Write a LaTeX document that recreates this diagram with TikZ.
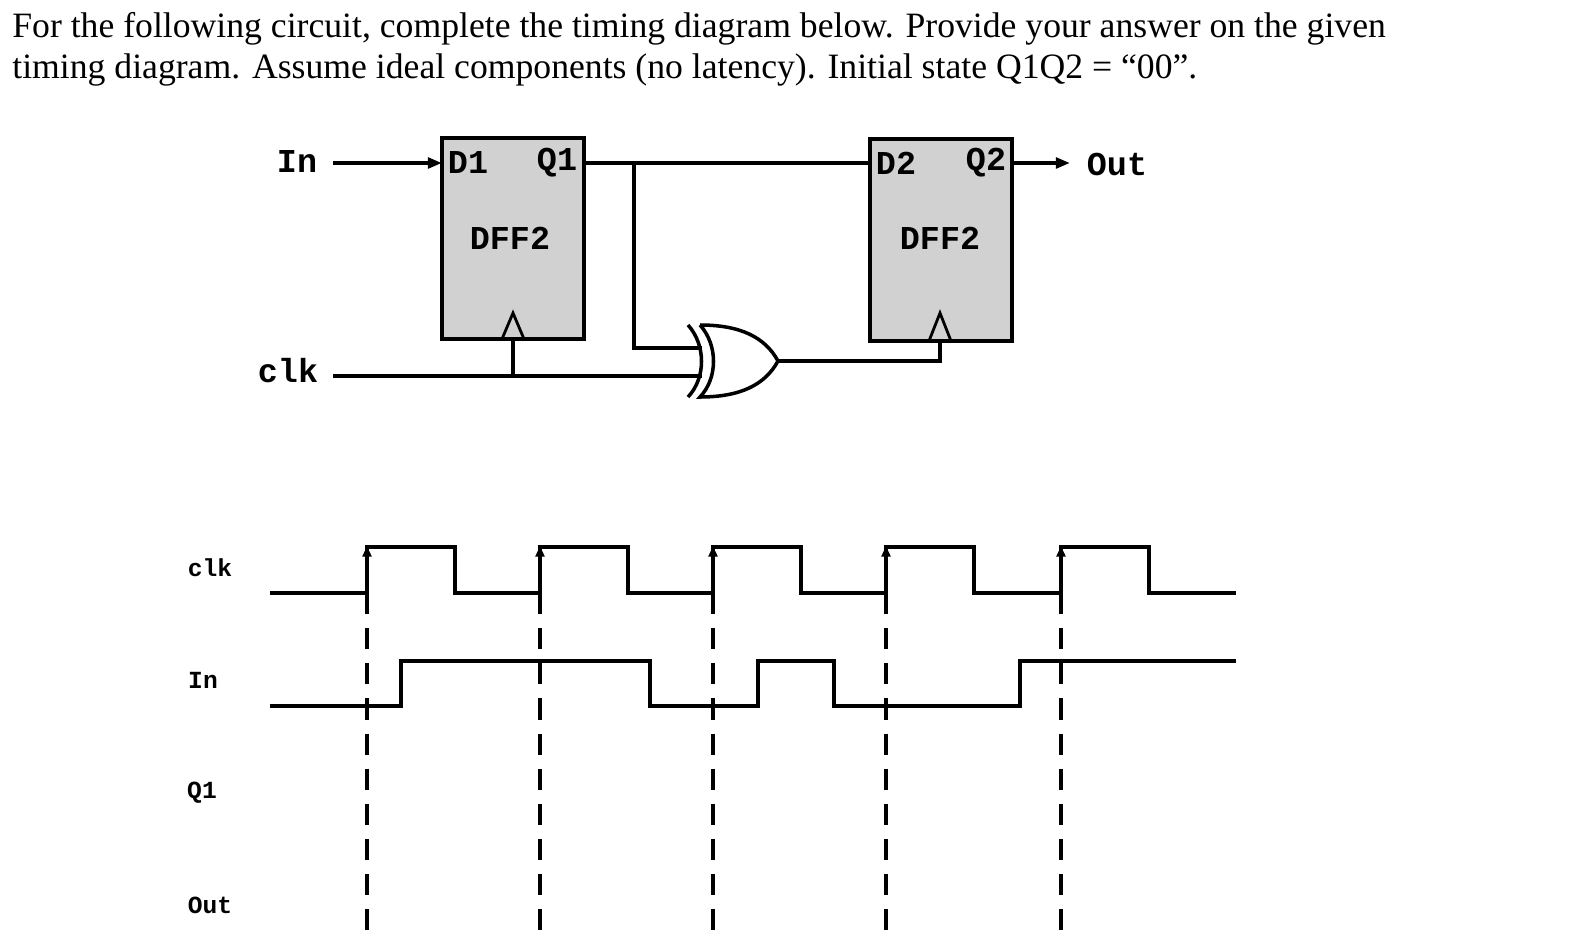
\documentclass[tikz,border=0pt]{standalone}
\usepackage{fontspec}
\setmainfont{Liberation Serif}
\newfontfamily\mono{Liberation Mono}
\usetikzlibrary{arrows.meta}
\begin{document}
\begin{tikzpicture}[x=0.02cm,y=-0.02cm,
  w/.style={line width=2pt},
  box/.style={draw,line width=2.4pt,fill=black!18},
  lbl/.style={font=\mono\bfseries\fontsize{19}{19}\selectfont,inner sep=0pt},
  tl/.style={font=\mono\bfseries\fontsize{14}{14}\selectfont,inner sep=0pt},
  sig/.style={line width=2pt},
  dsh/.style={line width=1.8pt,dash pattern=on 12pt off 8pt},
  arr/.style={-{Triangle[length=8pt,width=6pt]}}]
\useasboundingbox (0,0) rectangle (1592,950);
\node[anchor=north west,inner sep=0pt,align=left,font=\fontsize{20.3}{23.5}\selectfont] (title) at (12,12)
 {For the following circuit, complete the timing diagram below. Provide your answer on the given\\
 timing diagram. Assume ideal components (no latency). Initial state Q1Q2 = ``00''.};
% flip-flops
\draw[box] (442,138) rectangle (584,339);
\draw[box] (870,139) rectangle (1012,341);
\node[lbl] (d1) at (468,163) {D1};
\node[lbl] (q1) at (557,163) {Q1};
\node[lbl] (f1) at (510,238) {DFF2};
\node[lbl] (d2) at (896,163) {D2};
\node[lbl] (q2) at (986,163) {Q2};
\node[lbl] (f2) at (940,238) {DFF2};
\draw[line width=1.6pt] (502,339) -- (513,313) -- (524,339);
\draw[line width=1.6pt] (929,341) -- (940,313) -- (951,341);
\node[lbl] (in) at (297,162) {In};
\node[lbl] (clk) at (288,371) {clk};
\node[lbl] (out) at (1117,164) {Out};
\coordinate (a1) at (333,163);
\draw[w,arr] (a1) -- (442,163);
\draw[w] (584,163) -- (870,163);
\draw[w,arr] (1012,163) -- (1070,163);
\draw[w] (634,163) -- (634,348) -- (702,348);
\draw[w] (333,376) -- (702,376);
\draw[w] (513,376) -- (513,339);
% XOR gate
\draw[w] (688,325) .. controls (706,345) and (706,378) .. (688,397);
\draw[w] (700,325) .. controls (718,345) and (718,378) .. (700,397)
  .. controls (740,397) and (765,385) .. (778,361)
  .. controls (765,337) and (740,325) .. (700,325);
\draw[w] (778,361) -- (940,361) -- (940,341);
% timing labels
\node[tl] (tc) at (210,568) {clk};
\node[tl] (ti) at (203,680) {In};
\node[tl] (tq) at (202,793) {Q1};
\node[tl] (to) at (210,905) {Out};
\foreach \x in {367,540,713,886,1061} \draw[dsh] (\x,593) -- (\x,935);
\draw[sig] (270,593) -- (367,593) -- (367,547) -- (455,547) -- (455,593) -- (540,593) -- (540,547)
 -- (628,547) -- (628,593) -- (713,593) -- (713,547) -- (801,547) -- (801,593) -- (886,593) -- (886,547)
 -- (974,547) -- (974,593) -- (1061,593) -- (1061,547) -- (1149,547) -- (1149,593) -- (1236,593);
\foreach \x in {367,540,713,886,1061} \draw[sig,-{Triangle[length=6pt,width=5pt]}] (\x,570) -- (\x,546);
\draw[sig] (270,706) -- (401,706) -- (401,661) -- (650,661) -- (650,706) -- (758,706) -- (758,661)
 -- (834,661) -- (834,706) -- (1020,706) -- (1020,661) -- (1236,661);
\end{tikzpicture}
\end{document}
